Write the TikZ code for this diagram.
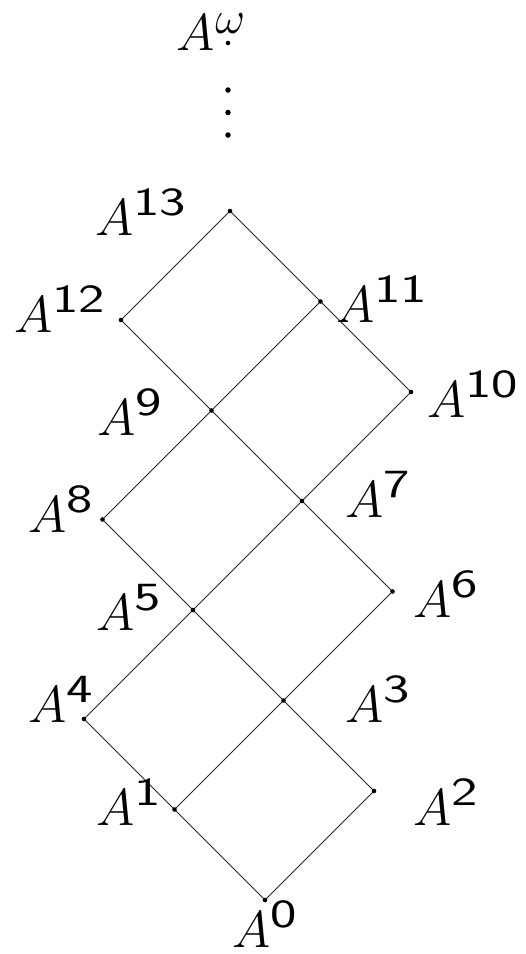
\RequirePackage{fix-cm}
\documentclass[tikz,border=0pt]{standalone}
\newcommand\Anum[1]{$A$\kern0pt\raisebox{20pt}{\scalebox{1.4}[1]{\fontsize{40}{44}\selectfont\sffamily #1}}}
\begin{document}
\begin{tikzpicture}[x=1pt,y=-1pt,
  edge/.style={draw=black!85,line width=0.85pt},
  vtx/.style={circle,fill=black,inner sep=0pt,minimum size=4.6pt},
  ell/.style={circle,fill=black,inner sep=0pt,minimum size=5.5pt},
  lbl/.style={anchor=base west,inner sep=0pt,font=\fontsize{52}{60}\selectfont}]
\useasboundingbox (0,0) rectangle (526,954);
% vertices
\coordinate (v0) at (265,900);
\coordinate (v1) at (174.5,809.5);
\coordinate (v2) at (374,791);
\coordinate (v3) at (283.5,700.5);
\coordinate (v4) at (84,719);
\coordinate (v5) at (193,610);
\coordinate (v6) at (392.5,591.5);
\coordinate (v7) at (302,501);
\coordinate (v8) at (102.5,519.5);
\coordinate (v9) at (211.5,410.5);
\coordinate (v10) at (411,392);
\coordinate (v11) at (320.5,301.5);
\coordinate (v12) at (121,320);
\coordinate (v13) at (230,211);
\coordinate (vw) at (228,43);
% edges
\draw[edge] (v0) -- (v2);
\draw[edge] (v1) -- (v3) -- (v6);
\draw[edge] (v4) -- (v5) -- (v7) -- (v10);
\draw[edge] (v8) -- (v9) -- (v11);
\draw[edge] (v12) -- (v13);
\draw[edge] (v13) -- (v11) -- (v10);
\draw[edge] (v12) -- (v9) -- (v7) -- (v6);
\draw[edge] (v8) -- (v5) -- (v3) -- (v2);
\draw[edge] (v4) -- (v1) -- (v0);
% dots
\foreach \i in {0,...,13} {\node[vtx] (d\i) at (v\i) {};}
\node[vtx] (dw) at (vw) {};
\node[ell] (e1) at (228,90) {};
\node[ell] (e2) at (228,112.5) {};
\node[ell] (e3) at (228,135) {};
% labels
\node[lbl] (lw) at (176,50) {$A$\kern1pt\raisebox{17pt}{\fontsize{46}{50}\selectfont$\omega$}};
\node[lbl] (l13) at (95,235) {\Anum{13}};
\node[lbl] (l12) at (14,332) {\Anum{12}};
\node[lbl] (l11) at (336,322) {\Anum{11}};
\node[lbl] (l10) at (427,417) {\Anum{10}};
\node[lbl] (l9) at (97,435) {\Anum{9}};
\node[lbl] (l8) at (28,532) {\Anum{8}};
\node[lbl] (l7) at (345,517) {\Anum{7}};
\node[lbl] (l6) at (413,617) {\Anum{6}};
\node[lbl] (l5) at (96,630) {\Anum{5}};
\node[lbl] (l4) at (28,722) {\Anum{4}};
\node[lbl] (l3) at (345,722) {\Anum{3}};
\node[lbl] (l2) at (413,825) {\Anum{2}};
\node[lbl] (l1) at (96,825) {\Anum{1}};
\node[lbl] (l0) at (232,947) {\Anum{0}};
\end{tikzpicture}
\end{document}
